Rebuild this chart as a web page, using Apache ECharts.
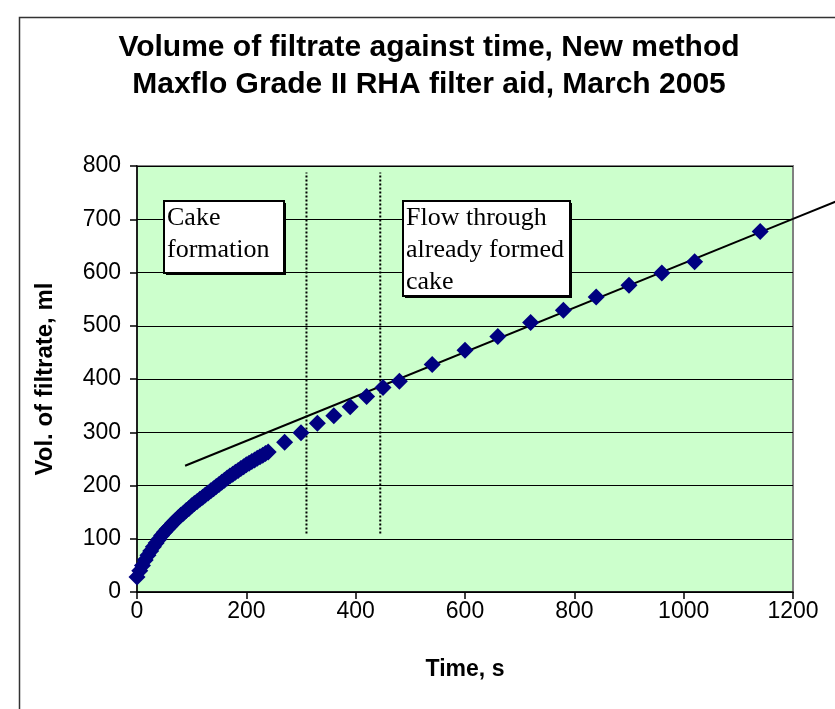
<!DOCTYPE html>
<html><head><meta charset="utf-8">
<script src="https://cdn.jsdelivr.net/npm/echarts@6/dist/echarts.min.js"></script>
<style>html,body{margin:0;padding:0;background:#fff;overflow:hidden}#c{width:835px;height:709px}</style>
</head><body><div id="c"></div>
<script>
// Measured data: time (s) and volume of filtrate (ml)
const timeS = [0,5,10,15,20,25,30,35,40,45,50,55,60,65,70,75,80,85,90,95,100,105,110,115,120,125,130,135,140,145,150,155,160,165,170,175,180,185,190,195,200,205,210,215,220,225,230,235,240,
  270,300,330,360,390,420,450,480,540,600,660,720,780,840,900,960,1020,1140];
const volMl = [28,40,50,60,69,77,85,92,99,106,112,118,123,129,134,139,144,148,153,157,162,166,170,174,178,182,186,190,194,198,202,206,210,214,218,221,225,228,232,235,239,242,245,248,251,254,257,260,263,
  281,299,317,331,348,367,384,396,427,454,480,506,529,554,576,599,620,677];
// Linear trend line for the "already formed cake" phase (end points, extends past the axis)
const trendX = [88, 1280];
const trendY = [237, 734];
// Phase boundary markers (dotted verticals)
const phaseX = [310, 445];
const phaseYRange = [110, 788];
// Axis ranges
const xAxisRange = [0, 1200, 200];
const yAxisRange = [0, 800, 100];
const titleLines = ['Volume of filtrate against time, New method', 'Maxflo Grade II RHA filter aid, March 2005'];
const noteCake = ['Cake', 'formation'];
const noteFlow = ['Flow through', 'already formed', 'cake'];

const chart = echarts.init(document.getElementById('c'));
const pts = timeS.map((t, i) => [t, volMl[i]]);
const slope = (trendY[1] - trendY[0]) / (trendX[1] - trendX[0]);
const yAtMax = trendY[0] + slope * (xAxisRange[1] - trendX[0]);
const series = [
  {
    type: 'line', data: [[trendX[0], trendY[0]], [xAxisRange[1], yAtMax]],
    symbol: 'none', silent: true, z: 3,
    lineStyle: { color: '#000', width: 2 }
  },
  ...phaseX.map(x => ({
    type: 'line', data: [[x, phaseYRange[0]], [x, phaseYRange[1]]],
    symbol: 'none', silent: true, z: 2,
    lineStyle: { color: '#000', width: 2, type: [2, 2] }
  })),
  {
    type: 'scatter', data: pts, symbol: 'diamond', symbolSize: 17, z: 4,
    itemStyle: { color: '#000080', opacity: 1 }
  }
];

const serif = '"Liberation Serif", "Times New Roman", serif';
const sans = '"Liberation Sans", Arial, sans-serif';
function noteBox(x, y, w, h, lines) {
  return {
    type: 'group', left: x, top: y, z: 100,
    children: [
      { type: 'rect', shape: { x: 2, y: 2, width: w, height: h }, style: { fill: '#000' } },
      { type: 'rect', shape: { x: 0, y: 0, width: w, height: h }, style: { fill: '#fff', stroke: '#000', lineWidth: 2 } },
      { type: 'text', x: 3, y: 1, style: { text: lines.join('\n'), font: '26px ' + serif, lineHeight: 32, fill: '#000' } }
    ]
  };
}

const fmt = v => String(v);
chart.setOption({
  animation: false,
  backgroundColor: '#fff',
  title: {
    text: titleLines.join('\n'), left: 424, top: 24, textAlign: 'center',
    textStyle: { fontFamily: sans, fontWeight: 'bold', fontSize: 30, lineHeight: 37, color: '#000' }
  },
  grid: {
    left: 137, right: 42, top: 166, bottom: 117,
    show: true, backgroundColor: '#CCFFCC', borderColor: '#808080', borderWidth: 2
  },
  xAxis: {
    type: 'value', min: xAxisRange[0], max: xAxisRange[1], interval: xAxisRange[2],
    name: 'Time, s', nameLocation: 'middle', nameGap: 66,
    nameTextStyle: { fontFamily: sans, fontWeight: 'bold', fontSize: 23, color: '#000' },
    axisLine: { show: true, onZero: false, lineStyle: { color: '#000', width: 1.5 } },
    axisTick: { show: true, length: 7, lineStyle: { color: '#000', width: 1.5 } },
    axisLabel: { margin: 8, fontFamily: sans, fontSize: 23, color: '#000', formatter: fmt },
    splitLine: { show: false }
  },
  yAxis: {
    type: 'value', min: yAxisRange[0], max: yAxisRange[1], interval: yAxisRange[2],
    name: 'Vol. of filtrate, ml', nameLocation: 'middle', nameGap: 80,
    nameTextStyle: { fontFamily: sans, fontWeight: 'bold', fontSize: 24, color: '#000' },
    axisLine: { show: true, onZero: false, lineStyle: { color: '#000', width: 1.5 } },
    axisTick: { show: true, length: 7, lineStyle: { color: '#000', width: 1.5 } },
    axisLabel: { margin: 16, fontFamily: sans, fontSize: 23, color: '#000', formatter: fmt },
    splitLine: { show: true, lineStyle: { color: '#000', width: 1 } }
  },
  series
});

// Extension of the trend line beyond the plot edge, positioned through the chart's own scales
const p0 = chart.convertToPixel({ gridIndex: 0 }, [xAxisRange[1], yAtMax]);
const p1 = chart.convertToPixel({ gridIndex: 0 }, [trendX[1], trendY[1]]);
chart.setOption({
  graphic: [
    { type: 'rect', left: 17, top: 15, z: -10, silent: true,
      shape: { x: 0, y: 0, width: 900, height: 800 }, style: { fill: 'none', stroke: '#333', lineWidth: 1.5 } },
    { type: 'line', z: 50, silent: true, shape: { x1: p0[0], y1: p0[1], x2: p1[0], y2: p1[1] },
      style: { stroke: '#000', lineWidth: 2 } },
    noteBox(163, 200, 120, 72, noteCake),
    noteBox(402, 200, 167, 95, noteFlow)
  ]
});
</script>
</body></html>
